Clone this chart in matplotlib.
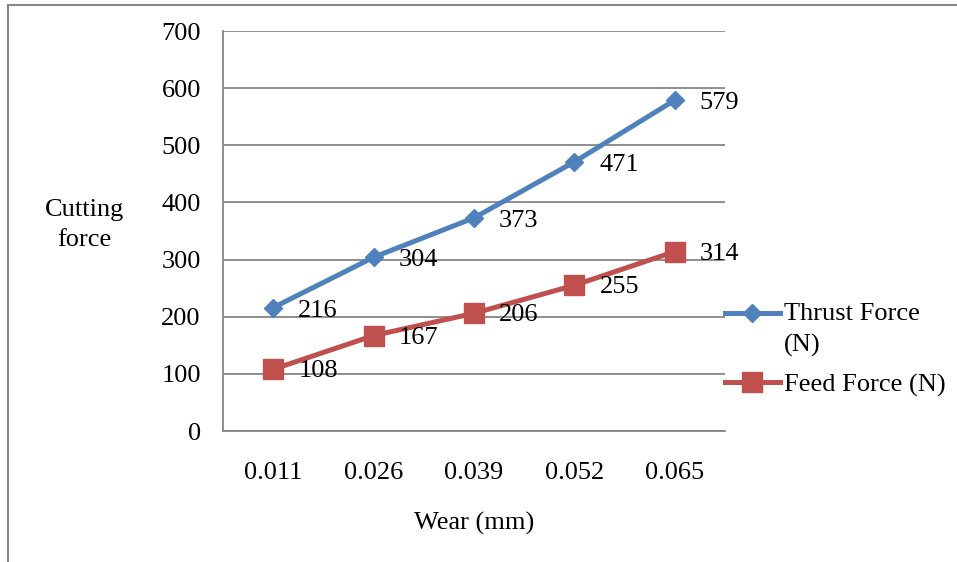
import matplotlib
matplotlib.use("Agg")
import numpy as np
import matplotlib.pyplot as plt
from matplotlib.patches import Rectangle

# Tool wear vs. cutting forces
wear_labels = ["0.011", "0.026", "0.039", "0.052", "0.065"]
thrust_force = [216, 304, 373, 471, 579]
feed_force = [108, 167, 206, 255, 314]
series_names = ["Thrust Force\n(N)", "Feed Force (N)"]
y_ticks = [0, 100, 200, 300, 400, 500, 600, 700]

W, H = 957, 562
plt.rcParams["font.family"] = ["Liberation Serif", "DejaVu Serif"]
plt.rcParams["font.size"] = 19

fig = plt.figure(figsize=(W / 100, H / 100), dpi=100)

# Outer chart frame
fig.patches.append(Rectangle((8 / W, -0.1), 1.2, (H - 5) / H + 0.1,
                             transform=fig.transFigure, fill=False,
                             edgecolor="#868686", linewidth=1.5))

ax = fig.add_axes([223 / W, (H - 431) / H, 502 / W, 400 / H])
x = list(range(len(wear_labels)))

blue = "#4F81BD"
red = "#C0504D"
grid_c = "#868686"

l1, = ax.plot(x, thrust_force, color=blue, lw=3.6, marker="D", markersize=9.5,
              label=series_names[0], zorder=3)
l2, = ax.plot(x, feed_force, color=red, lw=3.6, marker="s", markersize=14,
              label=series_names[1], zorder=3)

for xi, v in zip(x, thrust_force):
    ax.annotate(str(v), (xi, v), xytext=(25, -3), textcoords="offset pixels",
                ha="left", va="center")
for xi, v in zip(x, feed_force):
    ax.annotate(str(v), (xi, v), xytext=(25, -2), textcoords="offset pixels",
                ha="left", va="center")

ax.set_xlim(-0.5, len(wear_labels) - 0.5)
ax.set_ylim(0, 700)
ax.set_yticks(y_ticks)
ax.set_xticks(x)
ax.set_xticklabels(wear_labels)
ax.tick_params(axis="y", length=0, pad=16)
ax.tick_params(axis="x", length=0, pad=22)
ax.yaxis.grid(True, color=grid_c, linewidth=1.3)
ax.set_axisbelow(True)
for s in ["top", "right"]:
    ax.spines[s].set_visible(False)
for s in ["left", "bottom"]:
    ax.spines[s].set_color(grid_c)
    ax.spines[s].set_linewidth(1.3)

fig.text(84 / W, 1 - 225 / H, "Cutting\nforce", ha="center", va="center",
         linespacing=1.44)
fig.text(474 / W, 1 - 523 / H, "Wear (mm)", ha="center", va="center")

leg = fig.legend(handles=[l1, l2], loc="upper left",
                 bbox_to_anchor=(725 / W, 1 - 303 / H), frameon=False,
                 handlelength=2.08, handletextpad=0.15, labelspacing=0.63,
                 borderaxespad=0, borderpad=0)
for t in leg.get_texts():
    t.set_linespacing(1.48)
# put the first key level with the first line of its wrapped label
h0 = leg.legend_handles[0]
h0.set_ydata(np.asarray(h0.get_ydata()) + 11.5)

fig.savefig("out.png", dpi=100)
